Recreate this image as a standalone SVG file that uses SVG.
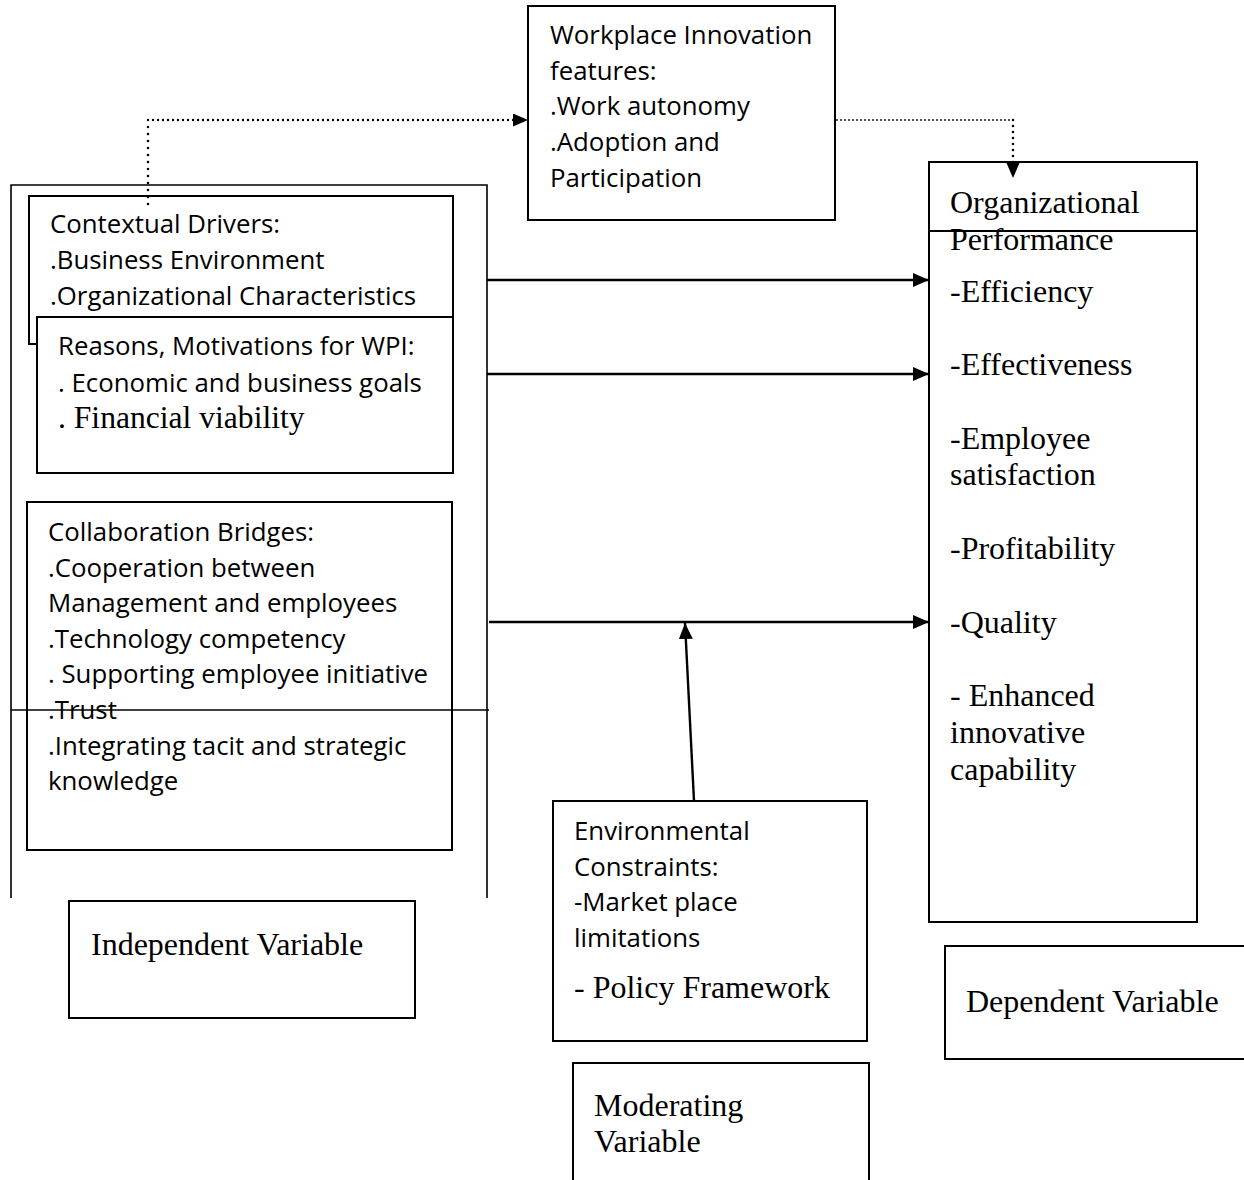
<svg xmlns="http://www.w3.org/2000/svg" width="1244" height="1180" viewBox="0 0 1244 1180">
<style>
.box{fill:#fff;stroke:#000;stroke-width:2}
.frame{fill:none;stroke:#000;stroke-width:1.6}
.sans{font-family:"Open Sans","Liberation Sans",sans-serif;font-size:25.8px;fill:#000}
.serif{font-family:"Liberation Serif","Times New Roman",serif;font-size:32px;fill:#000}
.arrow{fill:none;stroke:#000;stroke-width:2.4}
.dotv{fill:none;stroke:#000;stroke-width:2.6;stroke-linecap:round;stroke-dasharray:0 7}
.doth{fill:none;stroke:#000;stroke-width:2.4;stroke-linecap:round;stroke-dasharray:0 5}
.doth2{fill:none;stroke:#000;stroke-width:1.8;stroke-linecap:round;stroke-dasharray:0 4}
</style>
<defs>
<marker id="ah" markerUnits="userSpaceOnUse" markerWidth="17" markerHeight="15" refX="16" refY="7" orient="auto">
<path d="M0,0 L16,7 L0,14 z" fill="#000"/>
</marker>
<marker id="ahs" markerUnits="userSpaceOnUse" markerWidth="16" markerHeight="14" refX="15" refY="6.5" orient="auto">
<path d="M0,0 L15,6.5 L0,13 z" fill="#000"/>
</marker>
</defs>
<rect width="1244" height="1180" fill="#fff"/>

<g id="independent-frame">
<path class="frame" d="M11,898 L11,185 L487,185 L487,898"/>
</g>

<g id="contextual-drivers">
<rect class="box" x="29" y="196" width="424" height="148"/>
<text class="sans" x="50" y="233">Contextual Drivers:</text>
<text class="sans" x="50" y="269">.Business Environment</text>
<text class="sans" x="50" y="305">.Organizational Characteristics</text>
</g>

<g id="reasons">
<rect class="box" x="37" y="317" width="416" height="156"/>
<text class="sans" x="58" y="355">Reasons, Motivations for WPI:</text>
<text class="sans" x="58" y="392">. Economic and business goals</text>
<text class="serif" x="58" y="428" style="font-size:31.6px">. Financial viability</text>
</g>

<g id="collaboration">
<rect class="box" x="27" y="502" width="425" height="348" style="fill:none"/>
<text class="sans" x="48" y="541">Collaboration Bridges:</text>
<text class="sans" x="48" y="577">.Cooperation between</text>
<text class="sans" x="48" y="612">Management and employees</text>
<text class="sans" x="48" y="648">.Technology competency</text>
<text class="sans" x="48" y="683">. Supporting employee initiative</text>
<text class="sans" x="48" y="719">.Trust</text>
<text class="sans" x="48" y="755">.Integrating tacit and strategic</text>
<text class="sans" x="48" y="790">knowledge</text>
</g>
<line class="frame" x1="11" y1="710" x2="489" y2="710"/>

<g id="independent-label">
<rect class="box" x="69" y="901" width="346" height="117"/>
<text class="serif" x="91" y="955">Independent Variable</text>
</g>

<g id="workplace-innovation">
<rect class="box" x="528" y="6" width="307" height="214"/>
<text class="sans" x="550" y="44">Workplace Innovation</text>
<text class="sans" x="550" y="80">features:</text>
<text class="sans" x="550" y="115">.Work autonomy</text>
<text class="sans" x="550" y="151">.Adoption and</text>
<text class="sans" x="550" y="187">Participation</text>
</g>

<g id="organizational-performance">
<rect class="box" x="929" y="162" width="268" height="760"/>
<line x1="929" y1="231" x2="1197" y2="231" stroke="#000" stroke-width="2"/>
<text class="serif" x="950" y="213">Organizational</text>
<text class="serif" x="950" y="250">Performance</text>
<text class="serif" x="950" y="302">-Efficiency</text>
<text class="serif" x="950" y="375">-Effectiveness</text>
<text class="serif" x="950" y="449">-Employee</text>
<text class="serif" x="950" y="485">satisfaction</text>
<text class="serif" x="950" y="559">-Profitability</text>
<text class="serif" x="950" y="633">-Quality</text>
<text class="serif" x="950" y="706">- Enhanced</text>
<text class="serif" x="950" y="743">innovative</text>
<text class="serif" x="950" y="780">capability</text>
</g>

<g id="dependent-label">
<path class="box" d="M1245,946 L945,946 L945,1059 L1245,1059"/>
<text class="serif" x="966" y="1012">Dependent Variable</text>
</g>

<g id="environmental-constraints">
<rect class="box" x="553" y="801" width="314" height="240"/>
<text class="sans" x="574" y="840">Environmental</text>
<text class="sans" x="574" y="876">Constraints:</text>
<text class="sans" x="574" y="911">-Market place</text>
<text class="sans" x="574" y="947">limitations</text>
<text class="serif" x="574" y="998">- Policy Framework</text>
</g>

<g id="moderating-label">
<path class="box" d="M573,1182 L573,1063 L869,1063 L869,1182"/>
<text class="serif" x="594" y="1116">Moderating</text>
<text class="serif" x="594" y="1152">Variable</text>
</g>

<g id="connectors">
<path class="dotv" d="M148,204 L148,120"/>
<path class="doth" d="M148,120 L516,120"/>
<path d="M514,120 L528,120" fill="none" stroke="none" marker-end="url(#ahs)"/>
<path class="doth2" d="M837,120 L1013,120"/>
<path class="dotv" d="M1013,120 L1013,164" style="stroke-dasharray:0 6"/>
<path d="M1013,160 L1013,178" fill="none" stroke="none" marker-end="url(#ahs)"/>
<line class="arrow" x1="487" y1="280" x2="929" y2="280" marker-end="url(#ah)"/>
<line class="arrow" x1="487" y1="374" x2="929" y2="374" marker-end="url(#ah)"/>
<line class="arrow" x1="489" y1="622" x2="929" y2="622" marker-end="url(#ah)"/>
<line class="arrow" x1="694" y1="801" x2="685" y2="623" marker-end="url(#ah)"/>
</g>
</svg>
